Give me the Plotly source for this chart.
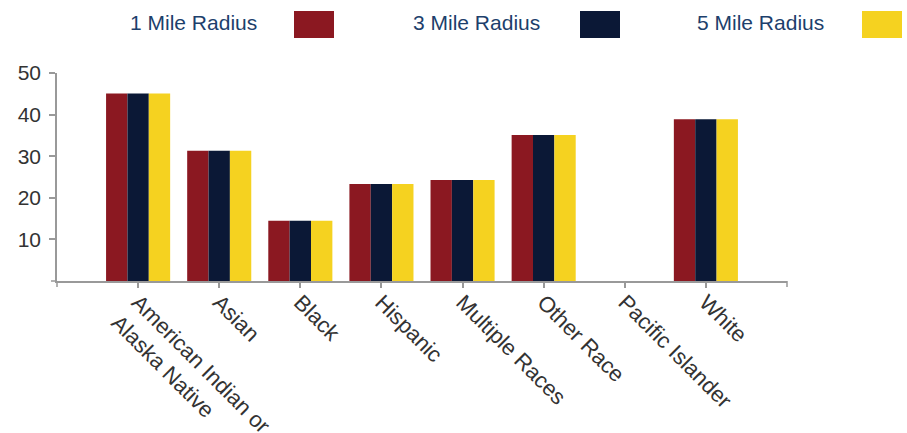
import plotly.graph_objects as go

# ---- data ----
categories = ["American Indian or<br>Alaska Native", "Asian", "Black", "Hispanic",
              "Multiple Races", "Other Race", "Pacific Islander", "White"]
mile1 = [45.1, 31.3, 14.5, 23.3, 24.3, 35.1, 0, 38.9]
mile3 = [45.1, 31.3, 14.5, 23.3, 24.3, 35.1, 0, 38.9]
mile5 = [45.1, 31.3, 14.5, 23.3, 24.3, 35.1, 0, 38.9]
series_names = ["1 Mile Radius", "3 Mile Radius", "5 Mile Radius"]
series_colors = ["#8B1821", "#0B1836", "#F5D220"]
y_ticks = [10, 20, 30, 40, 50]

W, H = 907, 433
L, R, T, B = 57, 787, 73, 281  # plot area in pixels
pw, ph = R - L, B - T

fig = go.Figure()
for name, vals, col in zip(series_names, [mile1, mile3, mile5], series_colors):
    fig.add_trace(go.Bar(x=categories, y=vals, name=name, marker_color=col,
                         marker_line_width=0, showlegend=False))

axis_col = "#999999"
xtick_font = dict(family="Liberation Sans, Arial, sans-serif", size=22, color="#333333")
ytick_font = dict(family="Liberation Sans, Arial, sans-serif", size=21, color="#333333")

fig.update_layout(
    width=W, height=H,
    margin=dict(l=L, r=W - R, t=T, b=H - B, autoexpand=False),
    paper_bgcolor="white", plot_bgcolor="white",
    barmode="group", bargap=0.21, bargroupgap=0,
    xaxis=dict(type="category", range=[-1, 8], showgrid=False, zeroline=False,
               showline=True, linecolor=axis_col, linewidth=1.5,
               ticks="outside", ticklen=5, tickcolor=axis_col, tickwidth=1.5,
               tickangle=45, tickfont=xtick_font, automargin=False,
               ticklabelstandoff=-7),
    yaxis=dict(range=[0, 50], tickvals=y_ticks, showgrid=False, zeroline=False,
               showline=True, linecolor=axis_col, linewidth=1.5,
               ticks="outside", ticklen=6, tickcolor=axis_col, tickwidth=1.5,
               tickfont=ytick_font, automargin=False, ticklabelstandoff=4),
)

# outer end ticks of axes (d3-style)
def px_x(p):
    return (p - L) / pw

def px_y(p):
    return (B - p) / ph

shapes = [
    dict(type="line", xref="paper", yref="paper", x0=px_x(L - 6), x1=px_x(L), y0=0, y1=0,
         line=dict(color=axis_col, width=1.5)),
    dict(type="line", xref="paper", yref="paper", x0=0, x1=0, y0=0, y1=px_y(B + 6),
         line=dict(color=axis_col, width=1.5)),
    dict(type="line", xref="paper", yref="paper", x0=1, x1=1, y0=0, y1=px_y(B + 6),
         line=dict(color=axis_col, width=1.5)),
]

# legend: text followed by swatch
legend_text_x = [130, 413, 697]
legend_sw_x = [294, 580, 862]
annotations = []
for name, col, tx, sx in zip(series_names, series_colors, legend_text_x, legend_sw_x):
    annotations.append(dict(text=name, xref="paper", yref="paper", x=px_x(tx - 2), y=px_y(22.5),
                            xanchor="left", yanchor="middle", showarrow=False,
                            font=dict(family="Liberation Sans, Arial, sans-serif", size=21,
                                      color="#1D3F6C")))
    shapes.append(dict(type="rect", xref="paper", yref="paper", x0=px_x(sx), x1=px_x(sx + 40),
                       y0=px_y(38), y1=px_y(11), fillcolor=col, line=dict(width=0)))

fig.update_layout(shapes=shapes, annotations=annotations)

fig.write_html("out.html", include_plotlyjs=True, config={"displayModeBar": False},
               post_script="document.body.style.margin='0';")
